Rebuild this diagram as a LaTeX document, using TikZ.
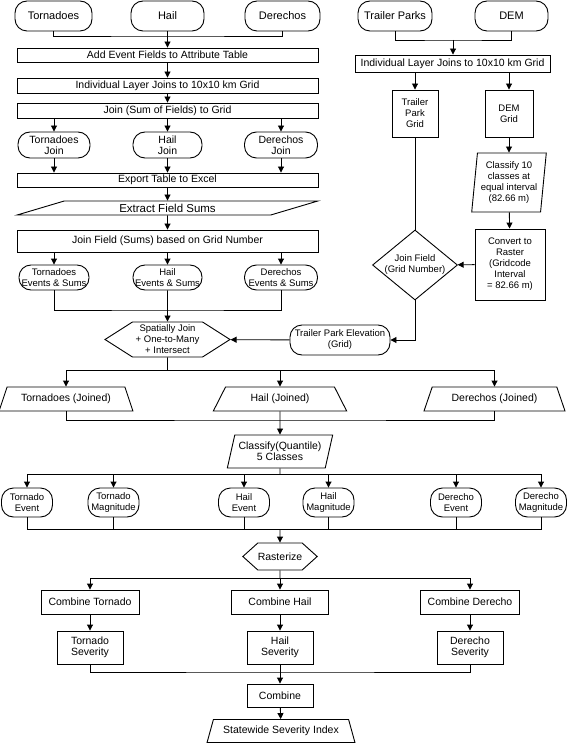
\documentclass[tikz,border=0pt]{standalone}
\usepackage{fontspec}
\setmainfont{Liberation Sans}
\usetikzlibrary{calc,arrows.meta,shapes.geometric,shapes.symbols}

\begin{document}
\begin{tikzpicture}[x=1pt,y=-1pt,>={Triangle[length=6pt,width=6pt]},line width=0.9pt,
  every node/.style={inner sep=0pt,align=center,font=\fontsize{10.5}{11}\selectfont},
  small/.style={font=\fontsize{9.5}{11}\selectfont},
  large/.style={font=\fontsize{11}{12}\selectfont},
  procbox/.style 2 args={draw,rectangle,minimum width=#1,minimum height=#2},
  termbox/.style 2 args={draw,rectangle,rounded corners=12pt,minimum width=#1,minimum height=#2},
  databox/.style 2 args={draw,trapezium,trapezium left angle=#1,trapezium right angle=#2,trapezium stretches=true},
  prepbox/.style={draw,signal,signal to=west and east,signal pointer angle=#1},
  decbox/.style={draw,diamond}]
\useasboundingbox (0,0) rectangle (568,743);

\node[termbox={77pt}{30pt},large] (tor) at (53.5,16) {Tornadoes};
\node[termbox={73pt}{30pt},large] (hail) at (167.5,16) {Hail};
\node[termbox={75pt}{30pt},large] (der) at (282.5,16) {Derechos};
\node[termbox={74pt}{30pt},large] (tp) at (395,16) {Trailer Parks};
\node[termbox={73pt}{30pt},large] (dem) at (511.5,16) {DEM};

\node[procbox={301pt}{14pt}] (addf) at (167.5,55) {Add Event Fields to Attribute Table};
\node[procbox={301pt}{15pt}] (ilj) at (167.5,85.5) {Individual Layer Joins to 10x10 km Grid};
\node[procbox={301pt}{15pt}] (jsum) at (167.5,110.5) {Join (Sum of Fields) to Grid};
\node[termbox={72pt}{26pt}] (tj) at (54,145) {Tornadoes\\Join};
\node[termbox={69pt}{26pt}] (hj) at (167.5,145) {Hail\\Join};
\node[termbox={73pt}{26pt}] (dj) at (281,145) {Derechos\\Join};
\node[procbox={301pt}{14pt}] (expt) at (167.5,180) {Export Table to Excel};
\node[databox={21}{159},minimum width=301pt,minimum height=14pt,font=\fontsize{11.5}{12}\selectfont] (extr) at (167.5,208) {Extract Field Sums};
\node[procbox={301pt}{22pt}] (jfs) at (167.5,241) {Join Field (Sums) based on Grid Number};
\node[termbox={70pt}{25pt},small] (te) at (54,277.5) {Tornadoes\\Events \& Sums};
\node[termbox={69pt}{25pt},small] (he) at (167.5,277.5) {Hail\\Events \& Sums};
\node[termbox={73pt}{25pt},small] (de) at (281,277.5) {Derechos\\Events \& Sums};
\node[prepbox=65,minimum width=125pt,minimum height=35pt,small] (sj) at (167.5,339.5) {Spatially Join\\+ One-to-Many\\+ Intersect};

\node[procbox={195pt}{17pt}] (rilj) at (452.5,63.5) {Individual Layer Joins to 10x10 km Grid};
\node[procbox={46pt}{47pt},small] (tpg) at (415,113.5) {Trailer\\Park\\Grid};
\node[procbox={48pt}{47pt},small] (demg) at (509,113.5) {DEM\\Grid};
\node[databox={83}{97},minimum width=75pt,minimum height=59pt,small] (cls) at (509,182.5) {Classify 10\\classes at\\equal interval\\(82.66 m)};
\node[procbox={70pt}{71pt},small] (conv) at (510,264.5) {Convert to\\Raster\\(Gridcode\\Interval\\= 82.66 m)};
\node[decbox,minimum width=85pt,minimum height=70pt,label={[small,align=center]center:Join Field\\(Grid Number)}] (jf) at (415,265) {};
\node[termbox={100pt}{30pt},small] (tpe) at (340,340) {Trailer Park Elevation\\(Grid)};

\node[databox={58}{58},minimum width=134pt,minimum height=24pt] (tjn) at (66,399) {Tornadoes (Joined)};
\node[databox={56}{56},minimum width=134pt,minimum height=24pt] (hjn) at (280,399) {Hail (Joined)};
\node[databox={60}{60},minimum width=141pt,minimum height=24pt] (djn) at (494.5,399) {Derechos (Joined)};
\node[databox={70}{110},minimum width=106pt,minimum height=33pt] (cq) at (280,451.5) {Classify(Quantile)\\5 Classes};

\node[termbox={51pt}{29pt},small] (tev) at (27,502.5) {Tornado\\Event};
\node[termbox={51pt}{29pt},small] (tmag) at (113.5,502.5) {Tornado\\Magnitude};
\node[termbox={51pt}{29pt},small] (hev) at (244,502.5) {Hail\\Event};
\node[termbox={51pt}{29pt},small] (hmag) at (328.5,502.5) {Hail\\Magnitude};
\node[termbox={51pt}{29pt},small] (dev) at (456,502.5) {Derecho\\Event};
\node[termbox={51pt}{29pt},small] (dmag) at (541,502.5) {Derecho\\Magnitude};

\node[prepbox=84,minimum width=65pt,minimum height=27pt] (ras) at (280,556.5) {Rasterize};
\node[procbox={98pt}{24pt}] (ct) at (90,602) {Combine Tornado};
\node[procbox={97pt}{24pt}] (ch) at (280,602) {Combine Hail};
\node[procbox={99pt}{24pt}] (cd) at (470,602) {Combine Derecho};
\node[procbox={66pt}{33pt}] (ts) at (90,647.5) {Tornado\\Severity};
\node[procbox={66pt}{33pt}] (hs) at (280,647.5) {Hail\\Severity};
\node[procbox={66pt}{33pt}] (ds) at (470,647.5) {Derecho\\Severity};
\node[procbox={66pt}{23pt}] (comb) at (280,695.5) {Combine};
\node[databox={61}{61},minimum width=148pt,minimum height=23pt] (ssi) at (281,731) {Statewide Severity Index};

\coordinate (j1) at (167.5,36);
\coordinate (j2) at (167.5,310);
\coordinate (j3) at (453,40);
\coordinate (j4) at (167.5,370);
\coordinate (j5) at (280,420);
\coordinate (j6) at (280,474);
\coordinate (j7) at (280,529);
\coordinate (j8) at (280,578);
\coordinate (j9) at (280,672);

\draw (tor.south) |- (j1) -| (der.south);
\draw[->] (hail.south) -- (addf.north);
\draw[->] (addf) -- (ilj);
\draw[->] (ilj) -- (jsum);
\draw[->] (jsum.south -| tj) -- (tj.north);
\draw[->] (jsum) -- (hj);
\draw[->] (jsum.south -| dj) -- (dj.north);
\draw[->] (tj.south) -- (tj.south |- expt.north);
\draw[->] (hj) -- (expt);
\draw[->] (dj.south) -- (dj.south |- expt.north);
\draw[->] (expt) -- (extr);
\draw[->] (extr) -- (jfs);
\draw[->] (jfs.south -| te) -- (te.north);
\draw[->] (jfs) -- (he);
\draw[->] (jfs.south -| de) -- (de.north);
\draw (te.south) |- (j2) -| (de.south);
\draw[->] (he) -- (sj);

\draw (tp.south) |- (j3) -| (dem.south);
\draw[->] (j3) -- (j3 |- rilj.north);
\draw[->] (rilj.south -| tpg) -- (tpg.north);
\draw[->] (rilj.south -| demg) -- (demg.north);
\draw[->] (demg) -- (cls);
\draw[->] (cls) -- (conv);
\draw[->] (conv) -- (jf);
\draw (tpg) -- (jf);
\draw[->] (jf.south) |- (tpe.east);
\draw[->] (tpe) -- (sj);

\draw (sj) -- (j4);
\draw[->] (j4) -| (tjn.north);
\draw[->] (j4) -| (hjn.north);
\draw[->] (j4) -| (djn.north);
\draw (tjn.south) |- (j5) -| (djn.south);
\draw[->] (hjn) -- (cq);

\draw (cq) -- (j6);
\draw[->] (j6) -| (tev.north);
\draw[->] (j6) -| (tmag.north);
\draw[->] (j6) -| (hev.north);
\draw[->] (j6) -| (hmag.north);
\draw[->] (j6) -| (dev.north);
\draw[->] (j6) -| (dmag.north);
\draw (tev.south) |- (j7) -| (dmag.south);
\draw (tmag.south) |- (j7);
\draw (hev.south) |- (j7);
\draw (hmag.south) |- (j7);
\draw (dev.south) |- (j7);
\draw[->] (j7) -- (ras);

\draw (ras) -- (j8);
\draw[->] (j8) -| (ct.north);
\draw[->] (j8) -- (ch);
\draw[->] (j8) -| (cd.north);
\draw[->] (ct) -- (ts);
\draw[->] (ch) -- (hs);
\draw[->] (cd) -- (ds);
\draw (ts.south) |- (j9) -| (ds.south);
\draw[->] (hs) -- (comb);
\draw[->] (comb) -- (ssi);
\end{tikzpicture}
\end{document}
